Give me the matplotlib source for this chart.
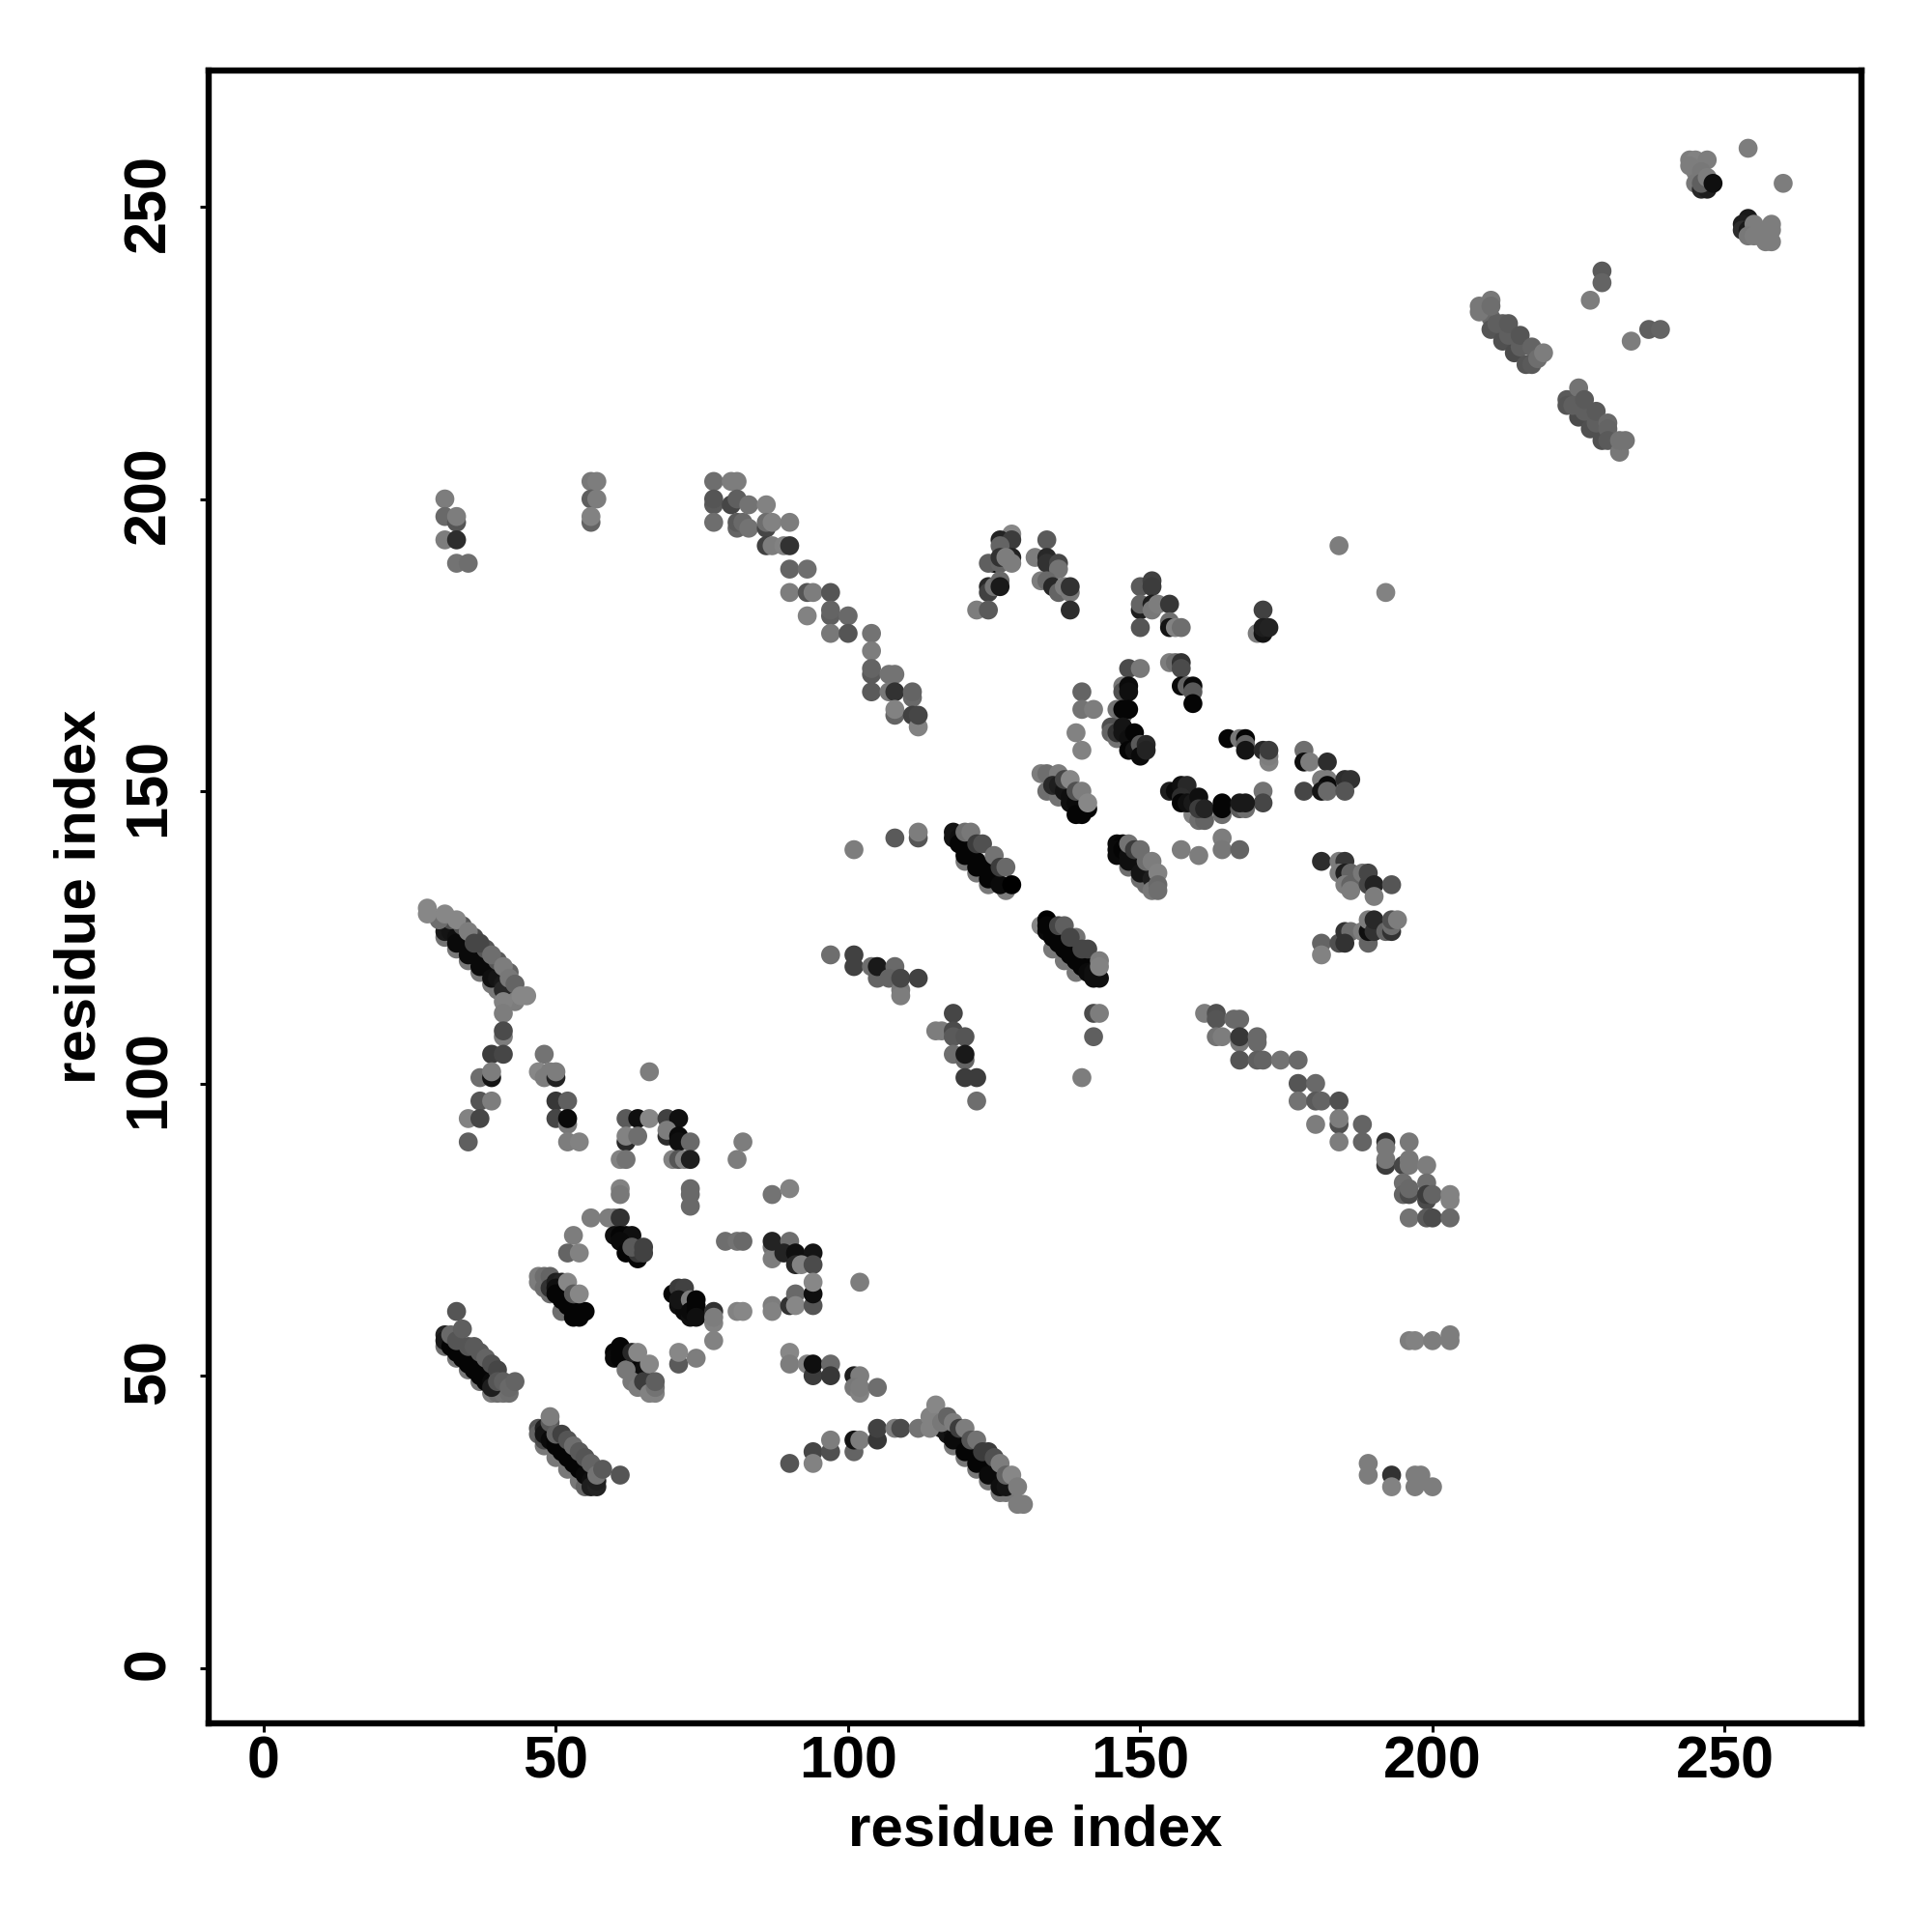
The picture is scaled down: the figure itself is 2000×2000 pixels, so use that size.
import matplotlib
matplotlib.use('Agg')
import matplotlib.pyplot as plt
from matplotlib.transforms import ScaledTranslation
import numpy as np

# contacts as (residue i, residue j, grey level), drawn in list order
helix_a = [(31,125,115),(33,123,120),(35,121,120),(37,119,120),(39,117,120),(41,115,125),(40,116,120),
    (31,127,35),(31,126,25),(32,126,20),(33,125,15),(33,124,10),(34,124,10),(35,123,10),(35,122,10),(36,122,10),
    (37,121,10),(37,120,10),(38,120,10),(39,119,10),(39,118,15),(40,118,20),(41,117,25),(41,116,40),
    (32,128,80),(34,127,85),(36,125,75),(38,123,85),(40,121,90),(42,119,100),(30,128,110),
    (31,129,135),(33,128,135),(35,126,125),(36,124,70),(37,124,70),(39,122,110),(41,120,125),(42,118,120),(43,117,100),
    (43,114,125),(41,114,130),(44,115,135),(45,115,135),(28,130,135),(28,129,135)]
arm_a = [(41,112,125),(41,108,125),(41,109,75),(39,105,60),(41,105,70),(37,101,110),(39,101,20),(39,102,125),
    (37,97,85),(39,97,125),(35,94,130),(37,94,70),(35,90,95),
    (48,105,115),(47,102,135),(48,101,125),(49,102,125),(50,101,35),(50,102,125),(50,97,55),(52,97,95),
    (50,94,70),(52,93,120),(52,94,10),(52,90,125),(54,90,130)]
loop_a = [(62,94,90),(64,94,15),(66,94,135),(69,94,65),(71,94,15),(62,90,40),(62,91,130),(64,91,110),
    (69,91,45),(69,92,125),(71,91,10),(71,90,15),(73,90,105),(61,87,130),(62,87,115),(70,87,130),(71,87,85),
    (72,87,130),(73,87,30),(82,90,125),(81,87,125),(87,81,115),(90,82,130),(66,102,125),
    (61,82,130),(61,81,120),(73,82,105),(73,81,105),(73,79,105),(56,77,125),(59,77,125),(60,77,125),(61,77,50),
    (53,74,125),(52,71,100),(54,71,130),(60,74,15),(61,74,5),(62,74,5),(63,74,15),(61,73,10),(62,71,5),
    (64,70,5),(64,71,55),(63,72,90),(65,72,65),(65,71,65),(79,73,110),(81,73,115),(82,73,105),
    (87,72,115),(87,70,125),(87,73,35),(90,73,110),(89,71,35),(91,71,15),(94,71,20),(91,69,40),(92,69,130),(94,69,75)]
helix_b = [(31,55,110),(33,53,120),(35,51,120),(37,49,120),(39,47,125),(40,47,110),(41,47,115),(42,47,110),
    (31,57,35),(31,56,25),(32,56,20),(32,55,5),(33,55,5),(33,54,5),(34,54,5),(34,53,5),(35,53,5),(35,52,5),(36,52,5),
    (36,51,5),(37,51,5),(37,50,5),(38,50,5),(38,49,5),(39,49,10),(39,48,30),
    (32,57,105),(33,56,85),(34,58,95),(35,55,85),(36,55,90),(37,54,90),(38,53,100),(39,52,80),(40,51,70),(40,49,85),
    (41,49,95),(42,48,105),(43,49,100),(33,61,85)]
helix_c = [(48,38,120),(50,36,120),(52,34,120),(54,32,120),(55,31,100),
    (47,41,85),(47,40,100),(48,39,75),(48,41,30),(48,40,20),(49,40,20),(49,39,10),(50,39,5),(50,38,5),(51,38,5),(51,37,5),
    (52,37,5),(52,36,5),(53,36,5),(53,35,5),(54,35,5),(54,34,5),(55,34,5),(55,33,10),(56,33,10),(56,32,15),
    (56,31,30),(57,31,35),(57,32,30),(49,42,90),(49,43,125),(50,40,100),(51,40,65),(52,39,85),(53,38,110),(54,37,90),
    (55,36,85),(56,35,100),(57,33,115),(58,34,90),(61,33,85)]
helix_d = [(47,67,125),(47,66,125),(48,65,110),(48,67,110),(49,64,110),(49,67,100),(51,61,110),
    (49,65,50),(50,66,30),(51,66,35),(50,65,15),(50,64,5),(51,64,5),(51,63,5),(52,63,5),(52,62,5),(53,62,5),(53,61,5),
    (54,61,5),(55,61,5),(53,60,5),(54,60,5),(52,66,135),(53,64,90),(54,64,135)]
helix_e = [(60,54,5),(60,53,10),(61,55,5),(61,54,5),(61,53,5),(62,53,5),(62,52,5),(63,52,5),(63,51,5),(64,51,5),(64,50,5),
    (65,50,10),(65,51,15),(63,49,120),(62,51,120),(64,48,125),(63,54,40),(64,54,135),(65,49,60),(66,52,135),(66,47,130),
    (67,47,130),(67,48,115),(67,49,95)]
helix_f = [(70,64,5),(71,62,15),(72,62,10),(72,61,10),(73,60,15),(71,65,60),(72,65,65),(71,63,20),(73,63,125),(73,61,10),
    (74,63,5),(74,62,5),(74,61,5),(74,60,15),(77,61,50),(77,59,130),(77,60,125),(77,56,130),(71,52,90),(71,54,135),(74,53,125)]
mid_low = [(81,61,130),(82,61,135),(87,62,125),(87,61,130),(90,62,50),(91,64,105),(91,62,135),(94,62,85),(94,64,15),(94,66,135),
    (102,66,125),(90,54,135),(90,52,125),(93,52,130),(94,50,60),(94,52,15),(97,52,105),(97,50,55),(101,50,30),(102,50,125),
    (101,48,120),(102,47,130),(102,48,125),(105,48,110),(90,35,85),(94,37,70),(94,35,130),(97,37,80),(97,39,125),
    (101,37,100),(101,39,20),(102,39,125),(105,39,55),(105,41,65),(108,41,125),(109,41,75),(112,41,115)]
helix_g = [(118,38,120),(120,36,120),(122,34,120),(124,32,120),(126,30,120),(127,30,120),
    (116,41,25),(117,40,20),(118,40,15),(118,39,10),(119,39,10),(120,38,10),(120,37,5),(121,37,5),(122,36,5),(122,35,5),
    (123,35,5),(124,34,5),(124,33,10),(125,33,10),(126,32,10),(126,31,15),(127,31,20),
    (114,41,130),(114,43,130),(115,45,135),(115,42,130),(116,42,120),(117,43,100),(118,42,125),(119,41,60),(120,41,125),
    (121,39,85),(122,39,115),(123,37,60),(124,37,60),(125,36,80),(126,35,125),(127,33,100),(128,33,135),(129,31,125),
    (129,28,125),(130,28,125)]
helix_h = [(120,138,120),(122,136,120),(124,134,120),(127,133,125),
    (118,143,20),(118,142,20),(119,142,15),(119,141,5),(120,141,5),(120,140,5),(120,139,5),(121,139,5),(122,138,5),(122,137,5),
    (123,137,5),(124,136,5),(124,135,5),(125,135,5),(126,134,10),(120,143,110),(121,143,120),(122,141,60),(123,141,80),
    (125,139,115),(126,137,60),(127,137,105),(128,134,0),(101,140,125),(108,142,90),(112,142,85),(112,143,125)]
helix_i = [(133,127,135),(135,123,120),(137,121,120),(139,119,120),
    (134,128,0),(134,126,10),(134,127,5),(135,126,5),(135,125,5),(136,125,5),(136,124,5),(137,124,5),(137,123,5),(138,123,5),(138,122,5),
    (139,122,5),(139,121,5),(140,121,5),(140,120,5),(141,120,5),(141,119,10),(136,127,70),(137,127,95),(139,125,115),
    (138,125,70),(140,123,70),(141,123,70),(142,118,15),(143,118,15),(142,119,15),(143,121,125),(143,120,130)]
arcs = [(97,122,110),(101,122,65),(101,120,65),(104,120,110),(105,118,100),(105,120,25),(108,120,105),(107,118,100),(109,116,120),
    (109,115,125),(109,118,70),(112,118,65),(115,109,125),(116,109,125),(118,112,70),(118,109,75),(118,108,90),(120,108,85),
    (118,105,110),(120,104,100),(120,105,25),(120,101,60),(122,101,60),(122,97,110),(142,112,75),(143,112,125),(142,108,95),(140,101,125)]
sheet_top = [(128,194,135),(127,193,130),(126,193,35),(128,193,60),(126,192,100),(125,189,5),(124,189,95),(126,189,100),(126,190,50),
    (128,190,35),(128,189,125),(127,190,125),(124,185,40),(124,184,65),(125,185,115),(126,186,105),(126,185,25),(122,181,125),(124,181,90),
    (134,193,90),(132,190,125),(134,190,40),(134,189,50),(136,189,70),(136,188,115),(133,186,125),(134,186,105),(135,185,40),
    (136,184,100),(137,185,125),(138,184,120),(138,185,50),(138,181,45)]
sheet_mid = [(150,185,90),(152,186,65),(152,185,60),(150,181,30),(150,182,100),(152,182,30),(152,181,120),(153,182,125),(155,182,55),
    (155,179,110),(155,178,20),(156,178,130),(157,178,110),(150,178,85),(171,181,65),(170,177,125),(171,177,20),(171,178,30),(172,178,35),
    (184,192,125),(192,184,130),(148,171,75),(150,171,120),(155,172,125),(156,172,110),(157,172,50),(157,171,75),
    (147,168,120),(147,167,80),(148,168,10),(148,167,15),(157,168,10),(158,168,100),(159,168,10),(159,167,90),(159,165,5),
    (140,167,100),(140,164,115),(142,164,125),(139,160,130),(140,157,130),(146,164,115),(147,163,105),(147,164,5),(148,164,5),
    (145,161,80),(145,160,100),(146,159,115),(146,160,50),(147,160,20),(147,161,20),(148,159,15),(148,157,5),(149,160,5),(149,157,20),
    (150,158,90),(150,156,10),(151,158,40),(151,157,35)]
sheet_right = [(165,159,5),(167,159,120),(168,159,5),(168,158,100),(168,157,20),(171,157,40),(172,155,130),(172,156,125),(172,157,60),
    (178,157,110),(178,155,15),(179,155,125),(182,155,45),(181,152,125),(182,152,125),(182,151,10),(185,152,45),(186,152,50),
    (178,150,70),(181,150,20),(182,150,105),(185,150,85),(171,150,115),(171,148,70),
    (159,146,130),(160,145,110),(161,145,100),(155,150,30),(156,150,10),(157,151,15),(158,151,40),(157,149,45),(157,148,5),(158,148,15),
    (159,148,25),(160,149,15),(160,147,60),(161,147,35),(164,146,110),(164,148,5),(164,147,5),(167,147,90),(168,147,110),(167,148,25),(168,148,25),
    (157,140,125),(160,139,125),(164,142,125),(164,140,120),(167,140,100)]
helix_j = [(148,137,110),(150,135,110),(151,134,110),
    (146,141,10),(146,139,10),(147,141,5),(146,140,10),(147,140,5),(148,139,15),(148,138,15),(149,138,15),(150,137,15),(150,136,20),(151,136,20),
    (152,135,30),(148,141,115),(149,140,60),(150,140,110),(151,138,110),(152,138,125),(153,136,130),(152,133,120),(153,134,105),(153,133,110)]
helix_k = [(134,150,110),(136,149,115),(133,153,125),(134,153,110),(136,153,125),(135,151,40),(136,151,30),(137,150,20),(138,149,15),(138,148,15),(139,148,10),
    (140,147,10),(139,146,5),(140,146,5),(141,147,5),(137,152,70),(138,152,135),(139,150,80),(140,150,125),(141,148,135)]
cluster_r = [(181,138,45),(184,138,125),(185,138,55),(184,136,125),(185,136,30),(186,136,100),(185,134,125),(186,134,100),(186,133,125),
    (188,136,120),(189,136,70),(189,134,70),(190,134,35),(190,132,125),(193,134,85),
    (181,124,100),(181,122,130),(184,124,80),(185,126,50),(186,126,110),(185,124,50),(188,126,125),(189,124,100),(189,126,15),(189,128,125),
    (190,126,50),(190,128,40),(192,126,100),(193,126,50),(193,127,110),(193,128,80),(194,128,125)]
strand_a = [(161,112,125),(163,112,80),(163,111,85),(166,111,105),(167,111,105),(163,108,115),(164,108,125),(167,107,120),(167,108,55),
    (170,108,105),(170,107,105),(167,104,85),(170,104,95),(171,104,100),(174,104,115),(177,104,105),(177,100,85),(180,100,105),
    (177,97,115),(180,97,90),(181,97,100),(184,97,80),(180,93,125),(184,93,80),(184,94,125),(188,93,100),(184,90,125),(188,90,100),
    (192,90,50),(192,89,120),(192,86,60),(192,87,120),(195,86,70),(196,86,120),(196,87,120),(196,90,120),(199,86,125),
    (195,83,110),(195,81,100),(196,81,75),(196,82,105),(199,83,110),(199,80,75),(199,81,60),(200,81,100),(203,81,130),(203,80,130),
    (196,77,115),(199,77,90),(200,77,75),(203,77,105),
    (196,56,125),(197,56,130),(200,56,125),(203,57,125),(203,56,125),
    (189,35,125),(189,33,125),(193,33,50),(193,31,130),(197,33,125),(197,31,125),(198,33,125),(200,31,125)]
strand_b = [(31,200,125),(31,197,105),(33,196,85),(33,197,125),(31,193,125),(33,193,45),(33,189,115),(35,189,110),
    (56,203,120),(57,203,125),(56,200,95),(57,200,125),(56,196,100),(56,197,130),
    (77,203,110),(80,203,125),(81,203,125),(77,199,90),(77,200,85),(77,196,110),(80,199,70),(81,200,95),(83,199,115),(86,199,130),
    (81,195,100),(81,196,90),(82,196,105),(83,195,115),(86,195,70),(86,196,110),(87,196,130),(90,196,125),
    (86,192,65),(87,192,125),(89,192,130),(90,192,50),(90,188,100),(93,188,110),(90,184,125),(93,184,85),(94,184,125),(97,184,85),
    (93,180,130),(97,180,95),(97,181,100),(100,180,105),(97,177,120),(100,177,85),(104,177,115),(104,174,125),(104,170,90),(104,171,100),
    (107,170,115),(108,170,115),(104,167,90),(107,167,120),(108,167,50),(111,166,105),(111,167,100),
    (108,163,100),(108,164,130),(111,163,65),(112,161,130),(112,163,70)]
corner = [(254,260,125),(260,254,125),(244,258,125),(245,258,130),(247,258,125),(244,257,125),(245,256,125),(246,256,120),(245,254,120),
    (246,253,40),(247,253,30),(246,254,95),(247,255,125),(248,254,15),
    (254,248,25),(253,247,30),(253,246,45),(254,246,25),(255,247,125),(254,245,120),(256,245,125),(255,245,125),(258,247,125),(257,246,125),
    (258,246,125),(257,244,125),(258,244,125),(229,239,90),(229,237,100),(227,234,125),(237,229,95),(239,229,100),(234,227,125)]
helix_l = [(210,231,105),(210,229,85),(212,227,80),(214,225,75),(216,223,85),(217,223,90),(211,230,95),(213,228,95),(215,226,95),
    (208,233,120),(208,232,120),(210,234,120),(210,233,110),(212,230,95),(213,230,90),(215,228,85),(217,226,100),(218,224,110),(219,225,125),
    (223,217,90),(223,216,85),(225,219,115),(225,214,75),(224,216,95),(227,212,80),(229,210,80),(226,215,95),(228,213,95),
    (226,217,90),(228,215,90),(230,213,105),(230,212,100),(230,210,90),(232,208,120),(232,210,115),(233,210,115)]

all_clusters = [helix_a, arm_a, loop_a, helix_b, helix_c, helix_d, helix_e, helix_f, mid_low, helix_g, helix_h, helix_i,
    arcs, sheet_top, sheet_mid, sheet_right, helix_j, helix_k, cluster_r, strand_a, strand_b, corner, helix_l]
tick_values = [0, 50, 100, 150, 200, 250]

plt.rcParams['font.family'] = ['Liberation Sans', 'DejaVu Sans']
plt.rcParams['font.weight'] = 'bold'

fig = plt.figure(figsize=(20, 20), dpi=100)
ax = fig.add_axes([216/2000, 1-1784/2000, 1711/2000, 1711/2000])

contacts = np.array([p for c in all_clusters for p in c])
ax.scatter(contacts[:, 0], contacts[:, 1], c=contacts[:, 2], cmap='gray', vmin=0, vmax=255, s=200, linewidths=0)

ax.set_xlim(-9.42, 273.4)
ax.set_ylim(-9.47, 273.3)
ax.set_xticks(tick_values)
ax.set_yticks(tick_values)
ax.tick_params(axis='both', length=6.5, width=2.2, labelsize=44)
ax.tick_params(axis='x', pad=2.5)
ax.tick_params(axis='y', pad=17)
# rotated labels sit a little low, nudge them up
nudge = ScaledTranslation(0, 3/72, fig.dpi_scale_trans)
for lab in ax.get_yticklabels():
    lab.set_rotation(90)
    lab.set_va('center')
    lab.set_rotation_mode('default')
    lab.set_transform(lab.get_transform() + nudge)
for side in ax.spines.values():
    side.set_linewidth(4.6)

ax.set_xlabel('residue index', fontsize=43.2, fontweight='bold', va='center')
ax.set_ylabel('residue index', fontsize=43.2, fontweight='bold', va='center')
ax.xaxis.set_label_coords(0.5, -0.065)
ax.yaxis.set_label_coords(-0.078, 0.5)

fig.savefig('out.png', dpi=100)
plt.close()
